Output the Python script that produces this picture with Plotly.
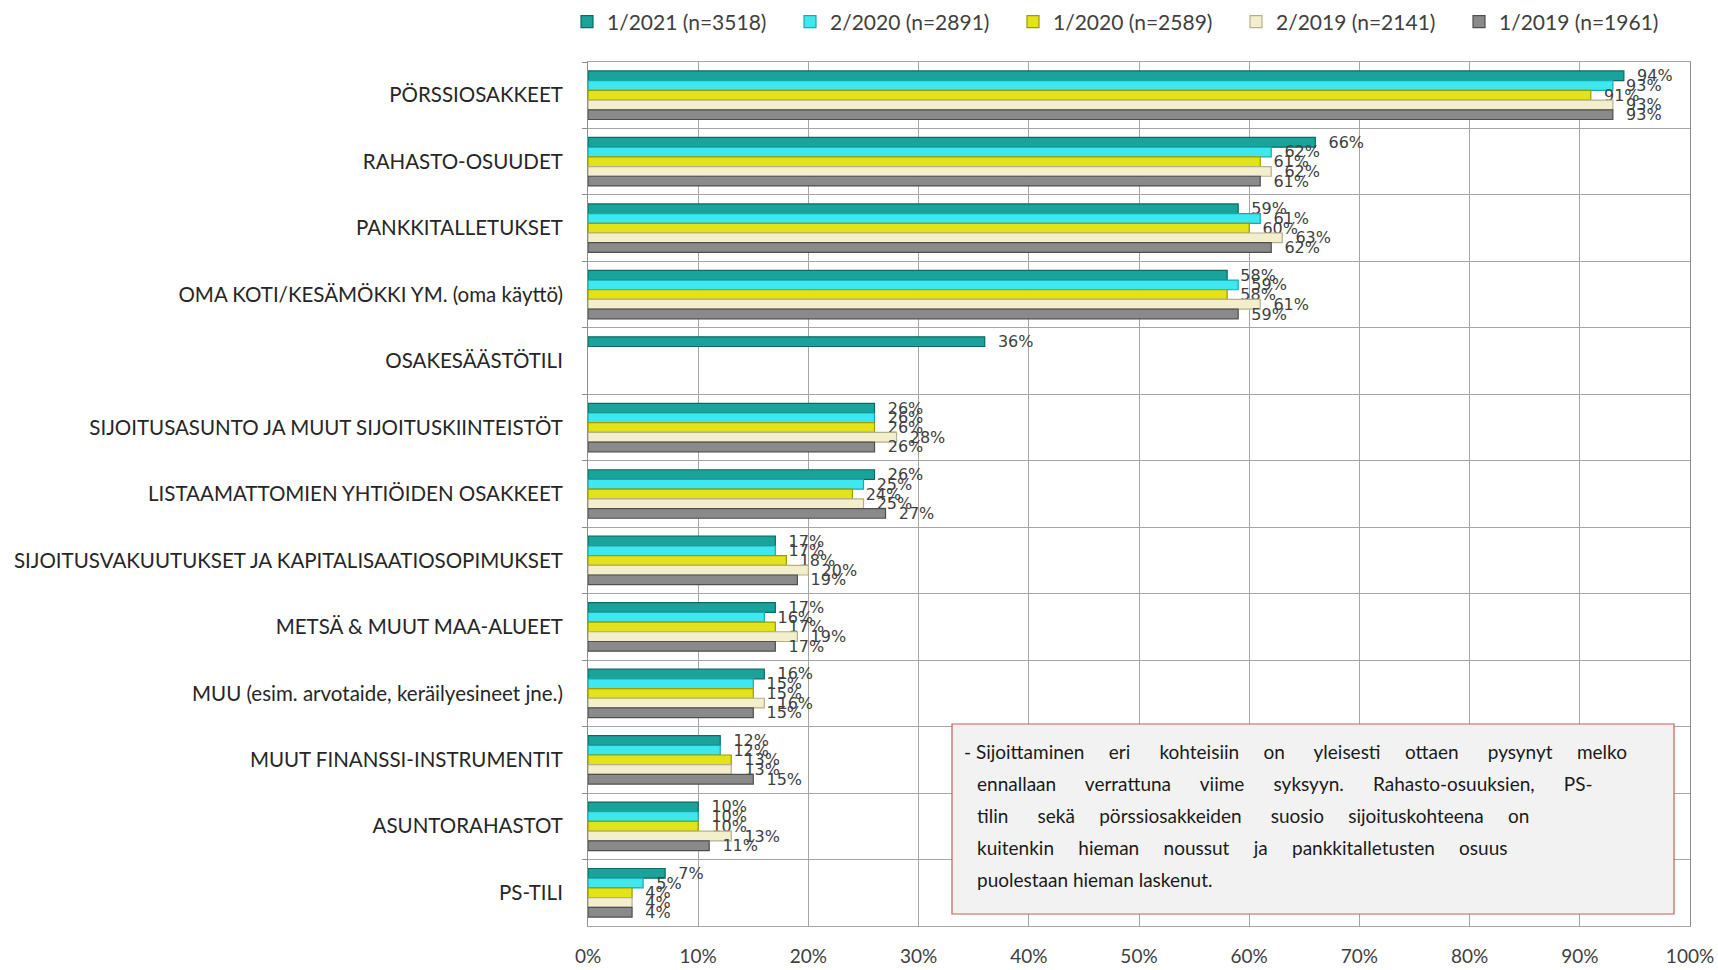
import plotly.graph_objects as go

categories = [
    "PÖRSSIOSAKKEET",
    "RAHASTO-OSUUDET",
    "PANKKITALLETUKSET",
    "OMA KOTI/KESÄMÖKKI YM. (oma käyttö)",
    "OSAKESÄÄSTÖTILI",
    "SIJOITUSASUNTO JA MUUT SIJOITUSKIINTEISTÖT",
    "LISTAAMATTOMIEN YHTIÖIDEN OSAKKEET",
    "SIJOITUSVAKUUTUKSET JA KAPITALISAATIOSOPIMUKSET",
    "METSÄ & MUUT MAA-ALUEET",
    "MUU (esim. arvotaide, keräilyesineet jne.)",
    "MUUT FINANSSI-INSTRUMENTIT",
    "ASUNTORAHASTOT",
    "PS-TILI",
]

series_names = [
    "1/2021 (n=3518)",
    "2/2020 (n=2891)",
    "1/2020 (n=2589)",
    "2/2019 (n=2141)",
    "1/2019 (n=1961)",
]

v_2021_1 = [94, 66, 59, 58, 36, 26, 26, 17, 17, 16, 12, 10, 7]
v_2020_2 = [93, 62, 61, 59, None, 26, 25, 17, 16, 15, 12, 10, 5]
v_2020_1 = [91, 61, 60, 58, None, 26, 24, 18, 17, 15, 13, 10, 4]
v_2019_2 = [93, 62, 63, 61, None, 28, 25, 20, 19, 16, 13, 13, 4]
v_2019_1 = [93, 61, 62, 59, None, 26, 27, 19, 17, 15, 15, 11, 4]

series_values = [v_2021_1, v_2020_2, v_2020_1, v_2019_2, v_2019_1]

fill_colors = ["#1aa39b", "#3ee8ee", "#e3e31a", "#f3efcc", "#8a8a8a"]
line_colors = ["#0b6b65", "#1aa8b0", "#9c9c00", "#b5b08a", "#4f4f4f"]

x_tickvals = [0, 10, 20, 30, 40, 50, 60, 70, 80, 90, 100]
x_ticktext = ["0%", "10%", "20%", "30%", "40%", "50%", "60%", "70%", "80%", "90%", "100%"]

note_lines = [
    "- Sijoittaminen eri kohteisiin on yleisesti ottaen pysynyt melko",
    "ennallaan verrattuna viime syksyyn. Rahasto-osuuksien, PS-",
    "tilin sekä pörssiosakkeiden suosio sijoituskohteena on",
    "kuitenkin hieman noussut ja pankkitalletusten osuus",
    "puolestaan hieman laskenut.",
]
# extra non-breaking spaces for each word gap, to imitate the justified text
note_gaps = [
    [0, 4, 5, 4, 5, 4, 5, 4],
    [5, 5, 5, 5, 5],
    [5, 4, 5, 4, 4],
    [4, 4, 4, 4, 4],
    [0, 0],
]

fig = go.Figure()
for name, vals, fc, lc in zip(series_names, series_values, fill_colors, line_colors):
    fig.add_trace(go.Bar(
        y=categories,
        x=vals,
        name=name,
        orientation="h",
        marker=dict(color=fc, line=dict(color=lc, width=1.2)),
        text=[("" if v is None else "\u00a0\u00a0" + f"{v}%") for v in vals],
        textposition="outside",
        cliponaxis=False,
        constraintext="none",
        textfont=dict(family="DejaVu Sans", size=16, color="#404040"),
    ))

W, H = 1718, 970
L, R, T, B = 588, 28, 62, 44
pw, ph = W - L - R, H - T - B

def px(x):
    return (x - L) / pw

def py(y):
    return (H - B - y) / ph

fig.update_layout(
    width=W, height=H,
    margin=dict(l=L, r=R, t=T, b=B, autoexpand=False),
    paper_bgcolor="white",
    plot_bgcolor="white",
    barmode="group",
    bargap=0.27,
    bargroupgap=0,
    showlegend=True,
    legend=dict(
        orientation="h",
        x=px(567), y=1.0 + (T - 22) / ph, xanchor="left", yanchor="middle",
        font=dict(family="Lato", size=21, color="#404040"),
        entrywidth=178, entrywidthmode="pixels",
        itemwidth=30,
        traceorder="normal",
    ),
    font=dict(family="Lato", color="#404040"),
)

fig.update_xaxes(
    range=[0, 100],
    tickvals=x_tickvals,
    ticktext=x_ticktext,
    showgrid=True,
    gridcolor="#a6a6a6",
    gridwidth=1,
    showline=True,
    linecolor="#a6a6a6",
    mirror=True,
    zeroline=False,
    tickfont=dict(family="Lato", size=19, color="#404040"),
    ticks="",
    ticklabelstandoff=13,
)

fig.update_yaxes(
    categoryorder="array",
    categoryarray=categories,
    autorange="reversed",
    tickson="boundaries",
    showgrid=True,
    gridcolor="#a6a6a6",
    gridwidth=1,
    showline=True,
    linecolor="#8c8c8c",
    mirror=True,
    ticks="outside",
    ticklen=5,
    tickcolor="#8c8c8c",
    tickfont=dict(family="Lato", size=20.5, color="#262626"),
    ticklabelstandoff=20,
)

# note box
fig.add_shape(
    type="rect", xref="paper", yref="paper",
    x0=px(952), x1=px(1674), y0=py(914), y1=py(724),
    fillcolor="#f2f2f2",
    line=dict(color="#d05a5a", width=1.2),
    layer="above",
)
line_ys = [751, 783, 815, 847, 879]
for i, (txt, yy, gaps) in enumerate(zip(note_lines, line_ys, note_gaps)):
    words = txt.split(" ")
    text = words[0]
    for w, g in zip(words[1:], gaps):
        text += " " + "\u00a0" * g + w
    fig.add_annotation(
        xref="paper", yref="paper",
        x=px(962 if i == 0 else 975), y=py(yy),
        xanchor="left", yanchor="middle",
        text=text, showarrow=False,
        font=dict(family="Lato", size=19, color="#1a1a1a"),
        align="left",
    )

fig.write_html(
    "out.html",
    config={"displayModeBar": False},
    post_script="document.body.style.margin='0px';document.body.style.overflow='hidden';",
)
